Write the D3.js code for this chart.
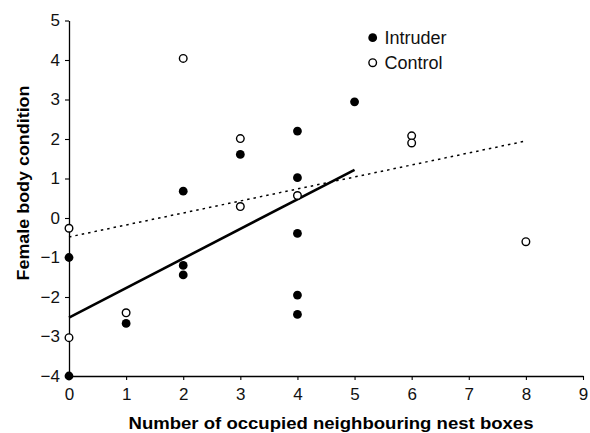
<!DOCTYPE html>
<html lang="en">
<head>
<meta charset="UTF-8">
<title>Female body condition vs occupied neighbouring nest boxes</title>
<script src="https://d3js.org/d3.v7.min.js"></script>
<style>
    body { margin: 0; background: #fff; }
    svg { font-family: 'Liberation Sans', Arial, sans-serif; }
</style>
</head>
<body>
<svg id="chart" width="590" height="433"></svg>
<script>
// data
const intruderX = [0, 0, 1, 2, 2, 2, 3, 4, 4, 4, 4, 4, 5];
const intruderY = [-1.0, -4.0, -2.67, 0.68, -1.2, -1.44, 1.61, 2.2, 1.02, -0.39, -1.95, -2.44, 2.94];
const controlX = [0, 0, 1, 2, 3, 3, 4, 6, 6, 8];
const controlY = [-0.26, -3.03, -2.4, 4.04, 2.01, 0.29, 0.57, 2.08, 1.9, -0.6];
const intruderFit = [[0, -2.52], [5, 1.22]];
const controlFit = [[0, -0.48], [8, 1.95]];
const xTicks = [0, 1, 2, 3, 4, 5, 6, 7, 8, 9];
const yTicks = [-4, -3, -2, -1, 0, 1, 2, 3, 4, 5];

const svg = d3.select("#chart");
const x = d3.scaleLinear().domain([0, 9]).range([69, 583]);
const y = d3.scaleLinear().domain([-4, 5]).range([376, 20.5]);

// axes
const xAxis = svg.append("g")
    .attr("transform", `translate(0,${y(-4)})`)
    .call(d3.axisBottom(x).tickValues(xTicks).tickSize(4).tickPadding(8).tickSizeOuter(0));
const yAxis = svg.append("g")
    .attr("transform", `translate(${x(0)},0)`)
    .call(d3.axisLeft(y).tickValues(yTicks).tickSize(4).tickPadding(5).tickSizeOuter(0));
[xAxis, yAxis].forEach(a => {
    a.attr("font-size", 17).attr("font-family", "'Liberation Sans', Arial, sans-serif");
    a.select(".domain").attr("stroke", "#000").attr("stroke-width", 1.3);
    a.selectAll(".tick line").attr("stroke", "#000").attr("stroke-width", 1.1);
    a.selectAll("text").attr("fill", "#111");
});

// fit lines
const line = d3.line().x(d => x(d[0])).y(d => y(d[1]));
svg.append("path").datum(controlFit)
    .attr("d", line).attr("fill", "none").attr("stroke", "#000")
    .attr("stroke-width", 1.5).attr("stroke-dasharray", "2.5,4");
svg.append("path").datum(intruderFit)
    .attr("d", line).attr("fill", "none").attr("stroke", "#000")
    .attr("stroke-width", 2.6);

// points
svg.append("g").selectAll("circle")
    .data(controlX.map((v, i) => [v, controlY[i]]))
    .join("circle")
    .attr("cx", d => x(d[0])).attr("cy", d => y(d[1])).attr("r", 3.8)
    .attr("fill", "#fff").attr("stroke", "#000").attr("stroke-width", 1.4);
svg.append("g").selectAll("circle")
    .data(intruderX.map((v, i) => [v, intruderY[i]]))
    .join("circle")
    .attr("cx", d => x(d[0])).attr("cy", d => y(d[1])).attr("r", 4.4)
    .attr("fill", "#000");

// legend
const legend = svg.append("g").attr("font-size", 18).attr("fill", "#111");
legend.append("circle").attr("cx", 372.7).attr("cy", 37.7).attr("r", 4.4).attr("fill", "#000");
legend.append("circle").attr("cx", 372.7).attr("cy", 62.7).attr("r", 3.8)
    .attr("fill", "#fff").attr("stroke", "#000").attr("stroke-width", 1.4);
legend.append("text").attr("x", 384.5).attr("y", 44).text("Intruder");
legend.append("text").attr("x", 384.5).attr("y", 69).text("Control");

// axis titles
svg.append("text")
    .attr("x", 331).attr("y", 428.5)
    .attr("text-anchor", "middle").attr("font-size", 17).attr("font-weight", "bold")
    .attr("textLength", 405).attr("lengthAdjust", "spacingAndGlyphs")
    .text("Number of occupied neighbouring nest boxes");
svg.append("text")
    .attr("transform", "translate(29,183) rotate(-90)")
    .attr("text-anchor", "middle").attr("font-size", 17).attr("font-weight", "bold")
    .attr("textLength", 195).attr("lengthAdjust", "spacingAndGlyphs")
    .text("Female body condition");
</script>
</body>
</html>
